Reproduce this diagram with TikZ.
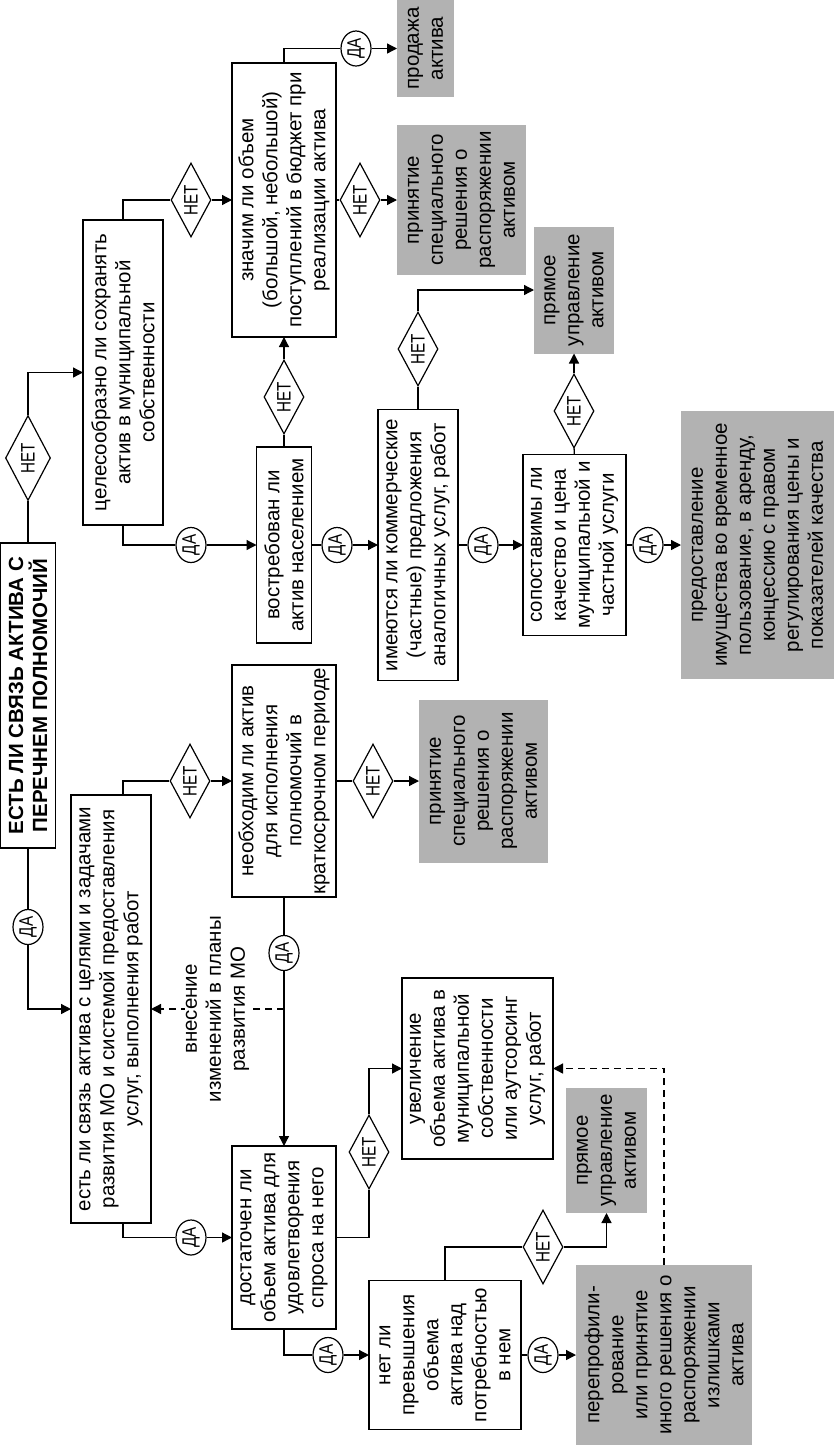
\documentclass[tikz,border=0pt]{standalone}
\usepackage{fontspec}
\setmainfont{Liberation Sans}
\newfontfamily\narrowsf[FakeStretch=0.78]{Liberation Sans}
\usetikzlibrary{shapes.geometric,arrows.meta}
\definecolor{actgray}{RGB}{178,178,178}
\tikzset{
  sz/.style 2 args={minimum height=#1pt, minimum width=#2pt},
  box/.style={draw, line width=1.5pt, rotate=90, align=center, inner sep=1pt, outer sep=0pt, font=\fontsize{20.5}{24}\selectfont},
  gbox/.style={fill=actgray, rotate=90, align=center, inner sep=1pt, outer sep=0pt, font=\fontsize{20.5}{24}\selectfont},
  nodiam/.style={draw, diamond, aspect=1.85, line width=1.2pt, rotate=90, inner sep=0pt, minimum width=74pt, minimum height=40pt, font=\narrowsf\fontsize{19.5}{22}\selectfont},
  yesoval/.style={draw, ellipse, line width=1.2pt, rotate=90, inner sep=0pt, minimum width=35pt, minimum height=30pt, font=\narrowsf\fontsize{19.5}{22}\selectfont},
  lbl/.style={fill=white, rotate=90, align=center, inner sep=1pt, font=\fontsize{20.5}{24}\selectfont},
  link/.style={line width=1.3pt},
  arr/.style={link, -{Triangle[length=10pt,width=10pt]}},
  darr/.style={arr, dash pattern=on 7pt off 5pt},
}
\begin{document}
\begin{tikzpicture}[x=1pt,y=-1pt]
\useasboundingbox (0,0) rectangle (834,1446);
% questions
\node[box, sz={55}{305}, font=\bfseries\fontsize{20.5}{24}\selectfont] (title) at (28,695.5) {ЕСТЬ ЛИ СВЯЗЬ АКТИВА С\\ПЕРЕЧНЕМ ПОЛНОМОЧИЙ};
\node[box, sz={80}{305}] (tsel) at (123,372.5) {целесообразно ли сохранять\\актив в муниципальной\\собственности};
\node[box, sz={80}{428}] (svyaz) at (111,1009) {есть ли связь актива с целями и задачами\\развития МО и системой предоставления\\услуг, выполнения работ};
\node[box, sz={104}{274}] (znach) at (284,200) {значим ли объем\\(большой, небольшой)\\поступлений в бюджет при\\реализации актива};
\node[box, sz={55}{196}] (vostr) at (284,545) {востребован ли\\актив населением};
\node[box, sz={80}{271}] (imeyut) at (418,545) {имеются ли коммерческие\\(частные) предложения\\аналогичных услуг, работ};
\node[box, sz={103}{181}] (sopost) at (574.5,545) {сопоставимы ли\\качество и цена\\муниципальной и\\частной услуги};
\node[box, sz={104}{232}] (neobh) at (284,781) {необходим ли актив\\для исполнения\\полномочий в\\краткосрочном периоде};
\node[box, sz={104}{183}] (dostat) at (284,1237.5) {достаточен ли\\объем актива для\\удовлетворения\\спроса на него};
\node[box, sz={152}{149}] (prevysh) at (445,1355) {нет ли\\превышения\\объема\\актива над\\потребностью\\в нем};
\node[box, sz={151}{181}] (uvelich) at (477.5,1068.5) {увеличение\\объема актива в\\муниципальной\\собственности\\или аутсорсинг\\услуг, работ};
% decisions
\node[gbox, sz={57}{97}] (prodazha) at (425.5,48.5) {продажа\\актива};
\node[gbox, sz={129}{150}] (prin1) at (461.5,200) {принятие\\специального\\решения о\\распоряжении\\активом};
\node[gbox, sz={80}{127}] (pryam1) at (574,290) {прямое\\управление\\активом};
\node[gbox, sz={153}{268}] (predost) at (757.5,545) {предоставление\\имущества во временное\\пользование, в аренду,\\концессию с правом\\регулирования цены и\\показателей качества};
\node[gbox, sz={129}{163}] (prin2) at (483.5,781) {принятие\\специального\\решения о\\распоряжении\\активом};
\node[gbox, sz={81}{125}] (pryam2) at (606.5,1150.5) {прямое\\управление\\активом};
\node[gbox, sz={176}{180}] (pereprof) at (664,1355) {перепрофили-\\рование\\или принятие\\иного решения о\\распоряжении\\излишками\\актива};
% answers
\node[nodiam, minimum width=85pt, minimum height=45pt] (net0) at (28,458) {НЕТ};
\node[nodiam] (net1) at (191,200) {НЕТ};
\node[nodiam] (net2) at (360,200) {НЕТ};
\node[nodiam] (net3) at (284,397) {НЕТ};
\node[nodiam] (net4) at (418,349) {НЕТ};
\node[nodiam] (net5) at (574,411) {НЕТ};
\node[nodiam] (net6) at (190,781) {НЕТ};
\node[nodiam] (net7) at (373,781) {НЕТ};
\node[nodiam] (net8) at (369,1152) {НЕТ};
\node[nodiam] (net9) at (543,1247) {НЕТ};
\node[yesoval] (da0) at (28,927) {ДА};
\node[yesoval] (da1) at (356,48.5) {ДА};
\node[yesoval] (da2) at (191,545) {ДА};
\node[yesoval] (da3) at (284,953) {ДА};
\node[yesoval] (da4) at (191,1237.5) {ДА};
\node[yesoval] (da5) at (328,1355) {ДА};
\node[yesoval] (da6) at (337,545) {ДА};
\node[yesoval] (da7) at (483,545) {ДА};
\node[yesoval] (da8) at (648,545) {ДА};
\node[yesoval] (da9) at (543,1355) {ДА};
% connectors
\draw[link] (title) -- (net0);
\draw[arr] (net0) |- (tsel);
\draw[link] (title) -- (da0);
\draw[arr] (da0) |- (svyaz);
\draw[link] (tsel) |- (net1);
\draw[arr] (net1) -- (znach);
\draw[link] (znach) |- (da1);
\draw[arr] (da1) -- (prodazha);
\draw[link] (znach) -- (net2);
\draw[arr] (net2) -- (prin1);
\draw[link] (tsel) |- (da2);
\draw[arr] (da2) -- (vostr);
\draw[link] (vostr) -- (net3);
\draw[arr] (net3) -- (znach);
\draw[link] (vostr) -- (da6);
\draw[arr] (da6) -- (imeyut);
\draw[link] (imeyut) -- (net4);
\draw[arr] (net4) |- (pryam1);
\draw[link] (imeyut) -- (da7);
\draw[arr] (da7) -- (sopost);
\draw[link] (sopost) -- (net5);
\draw[arr] (net5) -- (pryam1);
\draw[link] (sopost) -- (da8);
\draw[arr] (da8) -- (predost);
\draw[link] (svyaz.east -| tsel) |- (net6);
\draw[arr] (net6) -- (neobh);
\draw[link] (neobh) -- (net7);
\draw[arr] (net7) -- (prin2);
\draw[link] (neobh) -- (da3);
\draw[arr] (da3) -- (dostat);
\draw[darr] (da3 |- svyaz) -- node[lbl] {внесение\\изменений в планы\\развития МО} (svyaz);
\draw[link] (svyaz.west -| tsel) |- (da4);
\draw[arr] (da4) -- (dostat);
\draw[link] (dostat) -| (net8);
\draw[arr] (net8) |- (uvelich);
\draw[link] (dostat) |- (da5);
\draw[arr] (da5) -- (prevysh);
\draw[link] (prevysh) |- (net9);
\draw[arr] (net9) -| (pryam2);
\draw[link] (prevysh) -- (da9);
\draw[arr] (da9) -- (pereprof);
\draw[darr] (pereprof) |- (uvelich);
\end{tikzpicture}
\end{document}
